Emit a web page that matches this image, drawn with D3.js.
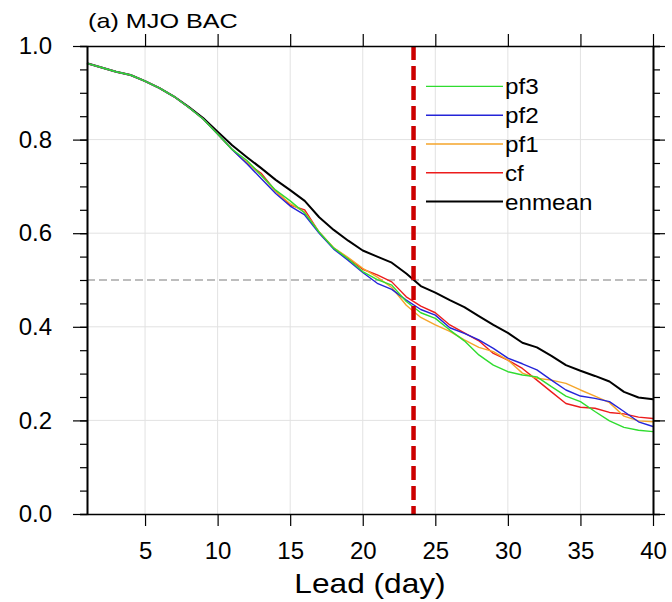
<!DOCTYPE html>
<html>
<head>
<meta charset="utf-8">
<script src="https://cdn.jsdelivr.net/npm/d3@7"></script>
<style>
  body { margin: 0; background: white; }
  text { font-family: "Liberation Sans", Arial, sans-serif; }
</style>
</head>
<body>
<div id="chart"></div>
<script>
    // lead days
    var lead = [1,2,3,4,5,6,7,8,9,10,11,12,13,14,15,16,17,18,19,20,
                21,22,23,24,25,26,27,28,29,30,31,32,33,34,35,36,37,38,39,40];

    // BAC for each member
    var enmean = [.963,.954,.945,.938,.925,.910,.892,.870,.846,.817,.788,.763,.739,.714,.692,.669,.634,.607,.584,.563,
                  .550,.537,.514,.487,.473,.457,.442,.423,.404,.387,.366,.356,.338,.318,.306,.295,.283,.261,.249,.245];
    var cf     = [.963,.954,.945,.938,.925,.910,.892,.869,.844,.812,.779,.750,.728,.690,.660,.650,.602,.568,.546,.523,
                  .511,.496,.464,.444,.430,.404,.387,.370,.343,.329,.311,.286,.261,.236,.228,.226,.217,.214,.207,.204];
    var pf1    = [.963,.954,.945,.938,.925,.910,.892,.869,.844,.812,.779,.752,.724,.689,.663,.645,.602,.569,.548,.525,
                  .506,.484,.446,.420,.404,.390,.372,.356,.347,.329,.301,.290,.286,.279,.265,.252,.238,.209,.199,.197];
    var pf2    = [.963,.954,.945,.938,.925,.910,.892,.869,.844,.812,.779,.749,.717,.685,.658,.639,.600,.566,.542,.516,
                  .493,.480,.457,.437,.425,.398,.386,.372,.354,.333,.321,.308,.286,.265,.252,.247,.240,.219,.197,.187];
    var pf3    = [.963,.954,.945,.938,.925,.910,.892,.869,.844,.812,.779,.756,.724,.692,.669,.643,.602,.568,.545,.518,
                  .501,.489,.454,.430,.418,.393,.370,.340,.318,.304,.297,.293,.272,.252,.240,.219,.199,.185,.179,.176];

    var legendNames = ["pf3", "pf2", "pf1", "cf", "enmean"];
    var xTicks = [5,10,15,20,25,30,35,40];
    var yTicks = [0,0.2,0.4,0.6,0.8,1.0];
    var refLead = 23.5;   // red dashed line
    var refBAC = 0.5;     // grey dashed line

    // colours
    var colors = { pf3: "#2fdc2f", pf2: "#2424d8", pf1: "#f5a52a", cf: "#ec1c1c", enmean: "#000000" };
    var gridcolor = "#e2e2e2";

    var series = { enmean: enmean, cf: cf, pf1: pf1, pf2: pf2, pf3: pf3 };

    const width = 672, height = 602;
    const plot = { left: 87, right: 653, top: 46, bottom: 514 };

    const svg = d3.select("#chart")
      .append("svg")
      .attr("width", width)
      .attr("height", height);

    const x = d3.scaleLinear().domain([1, 40]).range([plot.left, plot.right]);
    const y = d3.scaleLinear().domain([0, 1]).range([plot.bottom, plot.top]);

    // stretch text a bit, the original font is wider than Arial
    function stretch(sel, f) {
      sel.each(function () {
        var w = this.getComputedTextLength();
        d3.select(this).attr("textLength", w * f).attr("lengthAdjust", "spacingAndGlyphs");
      });
    }

    // grid lines
    svg.append("g").selectAll("line")
      .data(xTicks.filter(function (d) { return d < 40; }))
      .enter().append("line")
      .attr("x1", function (d) { return x(d); })
      .attr("x2", function (d) { return x(d); })
      .attr("y1", plot.top).attr("y2", plot.bottom)
      .attr("stroke", gridcolor).attr("stroke-width", 1);

    svg.append("g").selectAll("line")
      .data(yTicks.filter(function (d) { return d > 0 && d < 1; }))
      .enter().append("line")
      .attr("x1", plot.left).attr("x2", plot.right)
      .attr("y1", function (d) { return y(d); })
      .attr("y2", function (d) { return y(d); })
      .attr("stroke", gridcolor).attr("stroke-width", 1);

    // grey dashed line at 0.5
    svg.append("line")
      .attr("x1", plot.left).attr("x2", plot.right)
      .attr("y1", y(refBAC)).attr("y2", y(refBAC))
      .attr("stroke", "#a8a8a8")
      .attr("stroke-width", 1.5)
      .attr("stroke-dasharray", "8,4");

    // the lines
    const line = d3.line()
      .x(function (d, i) { return x(lead[i]); })
      .y(function (d) { return y(d); });

    ["enmean", "cf", "pf1", "pf2", "pf3"].forEach(function (k) {
      svg.append("path")
        .datum(series[k])
        .attr("d", line)
        .attr("fill", "none")
        .attr("stroke", colors[k])
        .attr("stroke-width", k === "enmean" ? 2 : 1.4)
        .attr("stroke-linejoin", "round");
    });

    // red dashed line
    svg.append("line")
      .attr("x1", x(refLead)).attr("x2", x(refLead))
      .attr("y1", plot.top).attr("y2", plot.bottom)
      .attr("stroke", "#cc0000")
      .attr("stroke-width", 4.5)
      .attr("stroke-dasharray", "14,6");

    // axes (ticks point outwards)
    var yMinor = d3.range(0, 1.0001, 0.05);

    function styleAxis(g) {
      g.select(".domain").attr("stroke", "black").attr("stroke-width", 1.6);
      g.selectAll(".tick line").attr("stroke", "black").attr("stroke-width", 1.2);
    }

    // minor y ticks left and right
    svg.append("g")
      .attr("transform", `translate(${plot.left},0)`)
      .call(d3.axisLeft(y).tickValues(yMinor).tickSize(7).tickFormat(""))
      .call(styleAxis);
    svg.append("g")
      .attr("transform", `translate(${plot.right},0)`)
      .call(d3.axisRight(y).tickValues(yMinor).tickSize(7).tickFormat(""))
      .call(styleAxis);

    // major y ticks with labels
    svg.append("g")
      .attr("transform", `translate(${plot.left},0)`)
      .call(d3.axisLeft(y).tickValues(yTicks).tickSize(14).tickSizeOuter(0).tickPadding(21).tickFormat(d3.format(".1f")))
      .call(styleAxis)
      .selectAll("text")
      .attr("fill", "black")
      .style("font-size", "24px")
      .style("font-family", "Liberation Sans, Arial, sans-serif");
    svg.append("g")
      .attr("transform", `translate(${plot.right},0)`)
      .call(d3.axisRight(y).tickValues(yTicks).tickSize(12).tickSizeOuter(0).tickFormat(""))
      .call(styleAxis);

    // x axes
    svg.append("g")
      .attr("transform", `translate(0,${plot.bottom})`)
      .call(d3.axisBottom(x).tickValues(xTicks).tickSize(12).tickSizeOuter(0).tickPadding(16))
      .call(styleAxis)
      .selectAll("text")
      .attr("fill", "black")
      .style("font-size", "24px")
      .style("font-family", "Liberation Sans, Arial, sans-serif");
    svg.append("g")
      .attr("transform", `translate(0,${plot.top})`)
      .call(d3.axisTop(x).tickValues(xTicks).tickSize(12).tickSizeOuter(0).tickFormat(""))
      .call(styleAxis);

    // axis title
    svg.append("text")
      .attr("x", (plot.left + plot.right) / 2)
      .attr("y", 593)
      .attr("text-anchor", "middle")
      .style("font-size", "28px")
      .text("Lead (day)")
      .call(stretch, 1.13);

    // panel title
    svg.append("text")
      .attr("x", plot.left + 1)
      .attr("y", 28)
      .style("font-size", "21px")
      .text("(a) MJO BAC")
      .call(stretch, 1.2);

    // legend
    var legY = d3.scaleBand().domain(legendNames).range([72, 216]);
    var leg = svg.append("g").selectAll("g")
      .data(legendNames)
      .enter().append("g")
      .attr("transform", function (d) { return `translate(0,${legY(d) + legY.bandwidth() / 2})`; });
    leg.append("line")
      .attr("x1", 426).attr("x2", 503)
      .attr("stroke", function (d) { return colors[d]; })
      .attr("stroke-width", function (d) { return d === "enmean" ? 2 : 1.4; });
    leg.append("text")
      .attr("x", 505)
      .attr("y", 8)
      .style("font-size", "22px")
      .text(function (d) { return d; })
      .call(stretch, 1.1);
</script>
</body>
</html>
